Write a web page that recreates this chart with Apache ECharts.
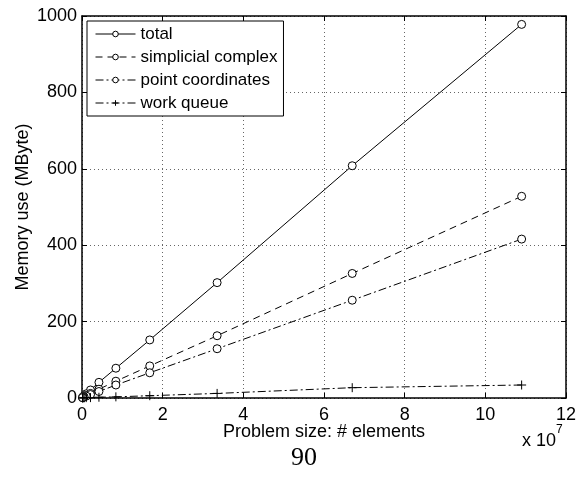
<!DOCTYPE html>
<html>
<head>
<meta charset="utf-8">
<script src="https://cdn.jsdelivr.net/npm/echarts@6/dist/echarts.min.js"></script>
<style>
  html, body { margin: 0; padding: 0; background: #fff; }
  #chart { width: 579px; height: 480px; }
</style>
</head>
<body>
<div id="chart"></div>
<script>
// problem size in units of 1e7 elements
const problemSize = [10.9, 6.7, 3.35, 1.68, 0.84, 0.42, 0.21, 0.105, 0.0525, 0.026, 0.013];
const total = [978, 608, 302, 152, 78, 41, 21, 11, 6, 3, 2];
const simplicialComplex = [528, 326, 163, 84, 44, 23, 12, 6, 3, 2, 1];
const pointCoordinates = [416, 256, 129, 66, 34, 17, 9, 5, 3, 2, 1];
const workQueue = [34, 27, 12, 6, 3, 2, 1, 1, 0.5, 0.3, 0.2];

const seriesNames = ['total', 'simplicial complex', 'point coordinates', 'work queue'];
const xTicks = [0, 2, 4, 6, 8, 10, 12];
const yTicks = [0, 200, 400, 600, 800, 1000];

const FONT = 'Liberation Sans';

function pairs(ys) {
  return problemSize.map((x, i) => [x, ys[i]]);
}

const circle = {
  symbol: 'circle',
  symbolSize: 8,
  itemStyle: { color: '#fff', borderColor: '#000', borderWidth: 1 }
};

function lineSeries(name, ys, dash, marker) {
  return Object.assign({
    name: name,
    type: 'line',
    data: pairs(ys),
    showAllSymbol: true,
    animation: false,
    lineStyle: { color: '#000', width: 1, type: dash },
    emphasis: { disabled: true }
  }, marker);
}

const chart = echarts.init(document.getElementById('chart'));

const axisLine = { show: true, onZero: false, lineStyle: { color: '#000', width: 1.5 } };
const tickIn = { show: true, inside: true, length: 5, lineStyle: { color: '#000', width: 1 } };
const gridDots = { show: true, lineStyle: { color: '#666', type: [1, 3], width: 1 } };

chart.setOption({
  backgroundColor: '#fff',
  animation: false,
  grid: { left: 82, right: 13, top: 16, bottom: 82, outerBoundsMode: 'none', containLabel: false },
  legend: {
    orient: 'vertical',
    left: 87,
    top: 21,
    padding: [3, 6, 3, 8],
    itemGap: 3,
    itemWidth: 40,
    itemHeight: 7,
    borderColor: '#000',
    borderWidth: 1,
    backgroundColor: '#fff',
    lineStyle: { width: 1 },
    itemStyle: { borderWidth: 1 },
    data: seriesNames,
    textStyle: { fontFamily: FONT, fontSize: 17, color: '#000', lineHeight: 20 }
  },
  xAxis: [{
    type: 'value',
    min: 0,
    max: 12,
    interval: 2,
    name: 'Problem size: # elements',
    nameLocation: 'middle',
    nameGap: 25,
    nameMoveOverlap: false,
    nameTextStyle: { fontFamily: FONT, fontSize: 18, color: '#000' },
    axisLine: axisLine,
    axisTick: tickIn,
    axisLabel: { fontFamily: FONT, fontSize: 18, color: '#000', margin: 8,
      customValues: xTicks, formatter: v => String(v) },
    splitLine: gridDots
  }, {
    type: 'value',
    position: 'top',
    min: 0,
    max: 12,
    interval: 2,
    axisLine: axisLine,
    axisTick: tickIn,
    axisLabel: { show: false },
    splitLine: { show: false }
  }],
  yAxis: [{
    type: 'value',
    min: 0,
    max: 1000,
    interval: 200,
    name: 'Memory use (MByte)',
    nameLocation: 'middle',
    nameGap: 50,
    nameMoveOverlap: false,
    nameTextStyle: { fontFamily: FONT, fontSize: 18, color: '#000' },
    axisLine: axisLine,
    axisTick: tickIn,
    axisLabel: { fontFamily: FONT, fontSize: 18, color: '#000', margin: 5,
      customValues: yTicks, formatter: v => String(v) },
    splitLine: gridDots
  }, {
    type: 'value',
    position: 'right',
    min: 0,
    max: 1000,
    interval: 200,
    axisLine: axisLine,
    axisTick: tickIn,
    axisLabel: { show: false },
    splitLine: { show: false }
  }],
  series: [
    lineSeries('total', total, 'solid', circle),
    lineSeries('simplicial complex', simplicialComplex, [7, 5], circle),
    lineSeries('point coordinates', pointCoordinates, [8, 3, 2, 3], circle),
    lineSeries('work queue', workQueue, [8, 3, 2, 3], {
      symbol: 'path://M0,5L10,5M5,0L5,10',
      symbolSize: 9,
      itemStyle: { color: 'none', borderColor: '#000', borderWidth: 1 }
    })
  ],
  graphic: [{
    type: 'text',
    left: 522,
    top: 424,
    style: {
      text: '{b|x 10}{s|7}',
      rich: {
        b: { fontFamily: FONT, fontSize: 18, fill: '#000', padding: [8, 0, 0, 0] },
        s: { fontFamily: FONT, fontSize: 12, fill: '#000', verticalAlign: 'top' }
      }
    }
  }, {
    type: 'text',
    left: 291,
    top: 445,
    style: { text: '90', fontFamily: 'Liberation Serif', fontSize: 26, fill: '#000' }
  }]
});
</script>
</body>
</html>
